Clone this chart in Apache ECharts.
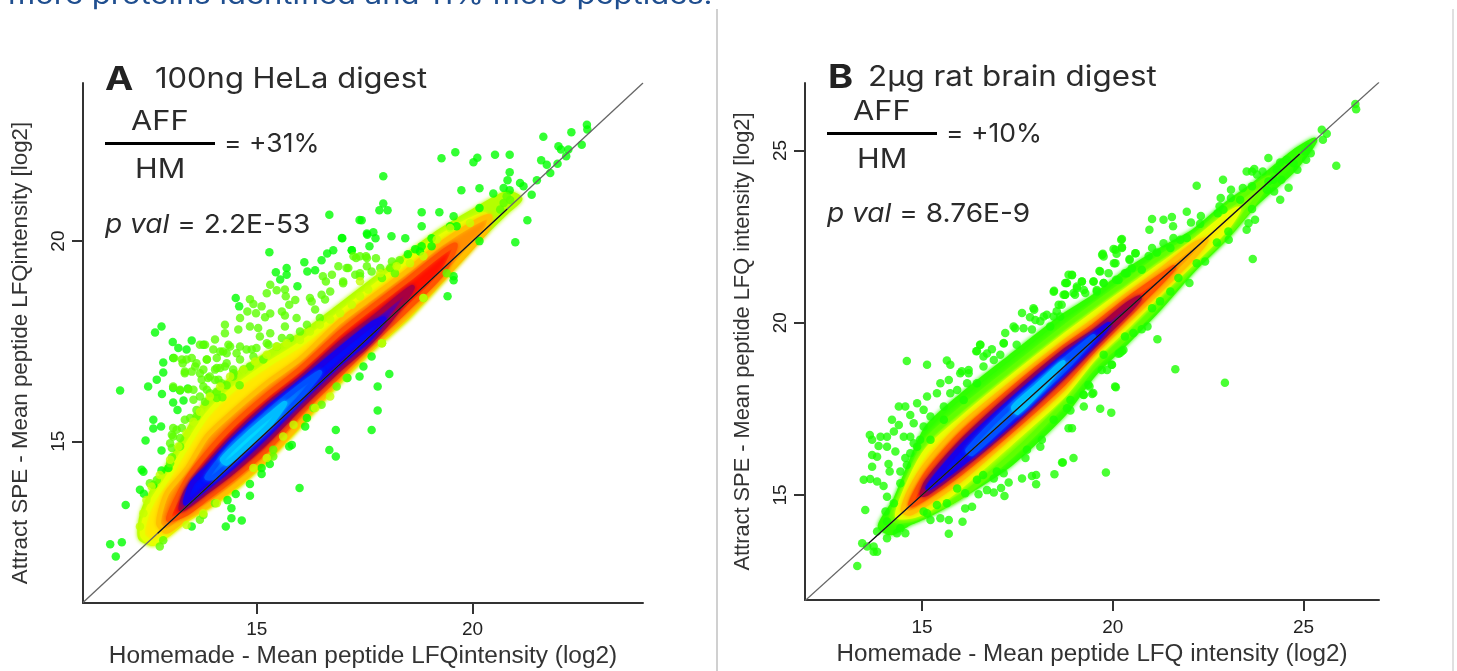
<!DOCTYPE html>
<html>
<head>
<meta charset="utf-8">
<script src="https://cdn.jsdelivr.net/npm/echarts@6/dist/echarts.min.js"></script>
<style>
  html, body { margin: 0; padding: 0; background: #fff; overflow: hidden; }
  #main { width: 1457px; height: 671px; }
</style>
</head>
<body>
<div id="main"></div>
<script>
// tick labels
const aXTicks = [15, 20];
const aYTicks = [15, 20];
const bXTicks = [15, 20, 25];
const bYTicks = [15, 20, 25];

// panel A, peptides far from the density ridge [homemade, attract]
const aGreen = [
  [22.65,22.91],[22.66,22.79],[22.29,22.72],[21.64,22.61],[21.99,22.37],[22.05,22.29],[22.53,22.41],[22.22,22.29],[22.17,22.12],
  [19.60,22.22],[19.28,22.07],[20.11,22.08],[20.02,21.97],[20.52,22.16],[20.86,22.16],[21.59,22.02],[21.72,21.91],[21.97,21.93],
  [21.80,21.70],[20.86,21.72],[20.81,21.52],[17.93,21.62],[21.49,21.52],[21.10,21.45],[21.18,21.37],[20.72,21.33],[20.86,21.27],
  [20.16,21.32],[19.74,21.27],[20.48,21.19],[21.37,21.16],[17.93,20.94],[17.84,20.77],[18.03,20.77],[18.82,20.72],[19.23,20.72],
  [19.56,20.62],[20.16,20.83],[17.43,20.52],[21.27,20.52],[18.82,20.37],[19.48,20.37],[19.63,20.37],[20.99,19.97],[17.70,20.22],
  [17.56,20.16],[17.75,20.07],[18.12,20.12],[18.44,20.07],[16.98,20.07],[19.05,20.07],[17.61,19.87],[17.20,19.77],[18.82,19.87],
  [18.67,19.80],[18.78,19.74],[19.05,19.87],[18.50,19.67],[19.56,19.12],[19.56,19.02],[19.42,18.62],[20.16,20.0],[17.80,16.37],
  [17.80,15.77],[17.66,15.28],[18.07,16.68],[17.38,16.62],[17.47,16.87],[17.66,17.12],
  [11.83,16.27],[12.48,16.37],[12.68,16.54],[12.83,16.72],[12.83,16.97],[13.06,17.08],[12.80,16.18],[13.06,16.33],[13.22,16.27],
  [13.40,16.32],[13.06,15.97],[13.30,16.02],[13.16,15.78],[12.60,15.54],[12.60,15.32],[12.78,15.37],[12.42,15.02],[12.79,14.77],
  [12.37,14.24],[12.33,14.29],[12.79,14.27],[12.95,14.33],[12.60,13.91],[12.29,13.79],[12.38,13.69],[11.96,13.41],[11.60,12.43],
  [11.87,12.48],[11.73,12.12],[13.49,12.87],[14.28,12.87],[14.41,13.08],[14.65,13.02],[14.41,13.33],[14.32,13.53],[14.51,13.68],
  [14.84,13.64],[14.84,13.93],[15.11,14.18],[15.11,14.33],[15.30,14.43],[15.81,14.91],[15.75,14.87],[16.12,15.37],[16.16,15.58],
  [16.83,15.28],[16.68,14.78],[16.83,14.62],[15.99,13.83],[17.10,16.58],[12.79,17.87],[12.64,17.72],[15.29,19.72],[16.97,20.08],
  [16.68,20.66],[17.38,20.53],[17.55,20.19],[15.44,19.22],[15.69,19.33],[15.54,19.04],[15.69,19.16],[16.10,19.47],[16.17,19.24],
  [16.35,19.27],[16.50,19.52],[16.63,19.69],[16.77,19.77],[17.20,19.77],[14.51,18.58],[14.59,18.37],[15.94,18.87],[13.05,17.48],
  [13.18,17.33],[13.49,17.52],[13.76,17.41],[13.37,17.29]
];
const aLime = [
  [17.24,19.62],[17.39,19.62],[17.53,19.62],[17.76,19.57],[18.13,19.49],[18.31,19.52],[17.08,19.33],[17.55,19.37],[17.66,19.24],
  [17.86,19.33],[18.09,19.33],[17.28,19.16],[17.90,19.08],[18.20,19.20],[17.00,18.99],[17.39,19.12],[18.86,18.58],[19.40,19.20],
  [17.90,17.45],[17.08,16.58],[20.72,20.95],[20.87,21.03],[20.64,20.79],[20.79,21.12],[12.75,12.37],[12.83,12.53],[13.68,13.04],
  [13.76,13.16],[14.03,13.45],[15.38,14.62],[15.38,14.79],[16.31,15.83],[16.50,15.91],[16.85,16.37],
  [13.03,15.16],[13.03,14.83],[13.22,15.08],[13.03,14.60],[13.26,15.33],[13.06,15.33],[13.45,15.58],[13.60,15.78],[13.53,16.04],
  [13.76,16.37],[13.87,16.58],[13.68,16.70],[13.60,16.95],[13.84,17.04],[14.07,17.08],[14.15,17.24],[14.30,17.20],[14.07,16.08],
  [13.28,16.95],[13.33,16.70],[13.68,17.41],[13.80,17.41],[14.61,17.04],[14.76,17.29],[14.45,16.79],[14.15,16.83],[14.03,16.53],
  [15.31,18.91],[15.23,18.70],[15.46,18.77],[15.65,18.79],[15.67,18.62],[14.84,18.55],[14.92,18.43],[15.11,18.37],[14.78,18.24],
  [14.98,18.20],[15.31,18.19],[15.19,18.10],[15.58,18.24],[15.65,18.14],[15.89,18.53],[15.75,18.41],[15.92,18.08],[16.23,18.58],
  [16.89,19.37],[17.12,19.33],[16.74,19.16],[16.53,19.12],[16.60,18.99],[17.00,18.95],[17.39,19.20],[17.55,19.58],[17.30,19.58],
  [16.70,18.74],[16.50,18.66],[16.58,18.54],[16.27,18.49],[16.35,18.29],[14.26,17.91],[14.61,18.08],[14.57,17.79],[14.84,17.87],
  [15.03,17.83],[15.07,17.62],[15.31,17.70],[15.58,17.58],[15.65,17.87],[15.77,17.58],[16.00,17.74],[16.16,17.91],[16.46,18.08],
  [14.03,17.54],[14.26,17.70],[14.34,17.41],[14.22,17.24],[14.53,17.20],[14.88,17.29],[15.27,17.41],[13.08,17.08],[13.26,17.04],
  [13.49,17.08],[13.84,17.04],[13.57,16.87],[13.33,16.74],[14.03,16.79],[14.26,16.87],[13.72,16.54],[13.91,16.62],[14.11,16.54],
  [13.06,16.37],[13.22,16.29],[13.41,16.30],[13.84,16.29],[14.46,16.70],[14.84,16.87],[14.30,16.40],[14.60,16.40],[14.20,16.10],
  [13.37,17.04],[13.49,16.74],[13.99,17.29],[14.38,17.37],[14.61,17.37],[14.99,17.33],[15.23,17.45],[15.46,17.37],[14.92,17.12],
  [15.15,17.04],[14.30,16.95],[14.07,16.83],[13.76,16.79],[14.45,16.62],[14.69,16.79],[14.18,16.45],[13.91,16.20],[13.68,16.12],
  [13.53,16.29],[14.07,16.24],[13.80,15.99],[13.60,15.62],[13.33,15.54],[13.14,15.29],[12.99,14.95],[13.06,15.12],[13.22,14.87],
  [12.52,13.95],[12.68,14.03],[12.99,14.45]
];
// yellow green dots fraying the edge of the ridge
const aEdge = [
  [14.69,16.78],[14.96,16.99],[15.23,17.16],[15.46,17.37],[15.69,17.45],[16.0,17.53],[16.23,17.74],[16.46,17.91],[16.7,18.04],
  [16.93,18.2],[17.2,18.41],[17.39,18.62],[17.58,18.79],[14.38,16.62],[14.15,16.37],[13.91,16.12],[13.68,15.74],[13.53,15.49],
  [13.37,15.2],[13.18,14.87],[12.99,14.54],[12.75,14.16],[12.56,13.87],[12.44,13.53],[12.37,13.2],[12.29,12.87],[17.39,19.0],
  [17.86,19.2],[18.24,19.37],[18.55,19.45],[18.86,19.62],[19.17,20.04],[19.48,20.33],[19.94,20.45],[13.37,12.91],[13.76,13.2],
  [14.07,13.45],[14.92,14.33],[15.23,14.58],[15.61,15.12],[15.85,15.41],[16.35,15.83],[16.7,16.12],[17.9,17.45],[18.86,18.58]
];

// panel A, density contours
const aBandLime = [
  [12.3,12.6],[12.35,13.2],[12.6,13.8],[12.95,14.4],[13.35,15.15],[13.8,15.95],[14.4,16.55],[15.2,17.15],[16.0,17.65],[16.77,18.25],[17.7,19.02],
  [18.48,19.65],[19.25,20.25],[20.02,20.75],[20.8,21.2],[21.1,21.05],[20.8,20.75],[20.0,19.9],[19.25,19.0],[18.48,18.1],[17.7,17.35],[16.77,16.35],
  [16.0,15.45],[15.23,14.6],[14.45,13.85],[13.84,13.4],[13.37,13.1],[12.91,12.7],[12.6,12.45]
];
const aBandYellow = [
  [12.35,12.65],[12.42,13.1],[12.6,13.55],[12.91,14.05],[13.37,14.87],[13.84,15.65],[14.45,16.3],[15.23,16.9],[16.0,17.42],[16.77,18.05],[17.7,18.85],
  [18.48,19.5],[19.25,20.1],[19.9,20.5],[20.3,20.65],[20.0,19.95],[19.25,19.0],[18.48,18.1],[17.7,17.35],[16.77,16.35],[16.0,15.42],[15.23,14.55],
  [14.45,13.8],[13.84,13.35],[13.37,13.05],[12.91,12.65],[12.6,12.45]
];
const aBandOrange = [
  [12.72,12.95],[12.91,13.7],[13.37,14.3],[13.84,15.12],[14.45,15.74],[15.23,16.45],[16.0,17.05],[16.93,18.0],[17.7,18.62],[18.48,19.25],[19.25,19.92],
  [20.02,20.45],[20.4,20.62],[20.3,20.25],[19.25,19.0],[18.48,18.14],[17.7,17.39],[16.93,16.58],[16.0,15.45],[15.23,14.58],[14.45,13.85],[13.84,13.38],
  [13.37,13.1],[12.91,12.75]
];
const aBandRed = [
  [12.95,13.05],[13.37,14.03],[13.84,14.7],[14.45,15.41],[15.23,16.15],[16.0,16.8],[16.93,17.72],[17.7,18.38],[18.48,19.02],[19.25,19.68],[19.6,19.9],
  [19.3,19.2],[18.48,18.3],[17.7,17.5],[16.93,16.68],[16.0,15.7],[15.23,14.79],[14.45,14.08],[13.84,13.58],[13.37,13.2]
];
const aBandPurple = [
  [13.25,13.3],[13.37,13.75],[13.84,14.4],[14.45,15.12],[15.23,15.9],[16.0,16.55],[16.93,17.45],[17.7,18.08],[18.6,18.85],[18.1,18.05],[17.5,17.35],
  [16.93,16.82],[16.0,15.85],[15.23,15.0],[14.45,14.25],[13.84,13.75]
];
const aBandBlue = [
  [13.35,13.45],[13.5,13.95],[13.84,14.33],[14.45,15.03],[15.23,15.8],[16.0,16.47],[16.93,17.3],[17.7,17.95],[17.95,18.05],[17.6,17.55],[16.93,16.95],
  [16.0,16.0],[15.23,15.15],[14.45,14.38],[13.84,13.85]
];
const aBandSky = [
  [13.84,14.1],[14.45,14.93],[15.23,15.7],[15.85,16.25],[16.46,16.72],[15.85,15.92],[15.23,15.33],[14.61,14.7],[14.0,14.1]
];
const aBandCyan = [
  [14.2,14.55],[14.76,15.15],[15.3,15.65],[15.65,15.95],[15.3,15.42],[14.76,14.87],[14.3,14.45]
];

// panel B, peptides around the ridge
const bGreen = [
  [26.36,26.35],[26.38,26.20],[25.48,25.60],[25.61,25.49],[25.51,25.31],[25.86,24.56],[25.13,25.10],[25.19,24.92],[25.04,24.97],[25.07,24.73],
  [24.08,24.78],[24.39,24.65],[24.56,24.73],[24.74,24.63],[24.84,24.44],[23.65,24.39],[23.78,24.30],[23.51,24.39],[23.71,24.46],[23.93,24.39],
  [24.30,24.44],[24.21,24.15],[24.08,24.10],[24.42,24.15],[22.89,24.15],[22.20,23.98],[23.41,23.91],[23.65,23.96],[23.10,23.86],[24.61,23.92],
  [24.23,23.81],[24.39,23.57],[24.04,23.86],[22.83,23.62],[23.10,23.62],[23.34,23.57],[22.80,23.38],[22.90,23.28],[23.65,23.30],[21.94,23.22],
  [22.75,23.18],[22.31,23.10],[21.03,23.01],[21.33,22.99],[21.55,23.07],[22.05,22.91],[21.58,22.80],[22.29,22.87],[23.73,22.99],[23.56,22.89],
  [23.51,22.70],[20.96,22.70],[23.03,22.65],[23.04,22.41],[22.73,22.33],[20.22,22.41],[21.59,22.46],[21.94,22.46],[21.77,22.41],[20.07,22.12],
  [20.24,22.19],[19.72,21.97],[19.76,21.92],[20.07,21.73],[20.60,22.02],[20.44,21.82],[21.33,22.31],[21.03,22.17],[21.16,22.04],[20.94,21.94],
  [21.51,22.17],[23.67,21.85],[22.42,21.78],[22.20,21.73],[19.65,21.50],[19.89,21.44],[18.93,21.38],[19.50,21.20],[20.76,21.54],[20.50,21.58],
  [20.15,21.24],[20.37,21.44],[19.76,21.15],[18.75,21.15],[19.19,21.20],[19.06,21.05],[19.24,20.95],[18.75,20.81],[18.97,20.86],[19.58,20.95],
  [22.01,21.15],[21.72,21.30],[21.51,20.91],[21.24,20.62],[21.03,20.42],[20.91,19.89],[20.76,19.81],[21.17,19.52],[21.64,18.65],[20.24,19.17],
  [20.15,19.10],[19.98,18.78],[19.85,18.63],[22.94,18.26],[20.08,18.13],[19.67,17.50],[19.96,17.39],[19.24,17.57],[19.46,17.93],[19.24,17.90],
  [19.39,18.15],[18.93,16.94],[18.97,16.07],[18.69,15.94],[19.82,15.65],[18.89,17.45],[18.80,17.52],[18.89,17.76],
  [14.60,18.89],[15.13,18.78],[15.65,18.90],[15.74,18.78],[16.44,19.18],[16.53,19.36],[16.00,18.53],[16.22,18.53],[15.70,18.34],[15.48,18.24],
  [15.92,18.05],[15.39,17.95],[15.13,17.86],[14.87,17.66],[14.39,17.57],[14.56,17.57],[15.04,17.47],[14.69,17.32],[14.21,17.18],[14.39,17.03],
  [14.08,16.69],[13.91,16.69],[13.63,16.74],[13.69,16.60],[13.86,16.42],[14.26,16.84],[14.52,16.69],[14.08,16.40],[14.30,16.26],[13.69,16.16],
  [13.82,16.11],[14.56,16.07],[14.69,16.21],[14.87,16.40],[13.69,15.82],[14.12,15.90],[14.15,15.68],[14.43,15.68],[14.60,15.87],[13.47,15.44],
  [13.64,15.46],[13.82,15.39],[13.99,15.26],[14.43,15.34],[14.08,14.95],[14.26,14.76],[13.51,14.56],[14.04,14.52],[14.08,14.23],[13.82,13.94],
  [14.08,13.74],[14.34,13.89],[14.56,13.89],[14.43,14.03],[13.43,13.60],[13.56,13.50],[13.73,13.50],[13.82,13.35],[13.30,12.94],[13.73,13.35],
  [15.13,14.47],[15.22,14.27],[15.48,14.32],[15.70,14.27],[16.06,14.22],[15.70,13.87],[15.65,14.76],[15.39,14.71],[16.13,14.61],[16.31,14.66],
  [15.04,14.52],[16.48,15.02],[16.70,15.14],[16.88,15.07],[17.16,14.97],[17.07,15.20],[17.27,15.36],[17.62,15.48],[17.88,15.55],[17.99,15.58],
  [17.99,15.31],[18.47,15.60],[18.67,15.94],[17.71,16.07],[17.75,16.31],[18.10,16.40],[18.14,16.60],[18.45,17.18],[18.84,16.94],[16.96,15.68],
  [16.88,15.48],[17.14,15.63],[16.44,15.44],[16.60,15.58],[16.13,15.05],[15.92,15.19],
  [15.57,17.57],[15.22,17.28],[15.74,17.95],[16.18,18.24],[16.70,19.11],[16.88,18.92],[17.14,19.40],[16.61,18.73],[16.44,18.24],[16.09,17.76],
  [15.57,17.18],[15.04,16.99],[14.78,17.08],[15.22,16.60],[14.95,16.60],[14.78,16.50],[14.69,16.69],
  [18.45,20.90],[18.80,21.15],[18.71,20.81],[18.84,21.39],[17.92,20.42],[17.62,20.28],[18.58,20.52],[18.19,20.18],[17.18,19.70],[17.40,19.89],
  [17.66,19.84],[18.62,20.18],[17.97,20.08],[18.45,20.18],
  [20.24,22.43],[20.24,22.17],[20.02,22.14],[20.10,22.00],[19.74,22.00],[20.59,22.02],[20.44,21.85],[20.03,21.73],[19.67,21.49],[18.93,21.39],
  [18.78,21.15],[18.46,20.93],[19.19,21.20],[19.49,21.20],[19.76,21.15],[20.09,21.25],[20.32,21.44],[19.06,21.00],[18.75,20.81],[19.01,20.81],
  [19.28,20.86],[19.58,20.91],[18.66,20.52],[17.94,20.38],[17.83,20.16],[18.27,20.23],[18.53,20.33],[18.10,20.04],[17.44,19.84],[17.88,19.80],
  [18.36,19.89],[16.52,19.36],[16.42,19.17],[16.83,19.23],[17.14,19.41],[16.61,19.02],[17.05,19.07],[17.48,19.36],[16.22,18.63],[16.04,18.59],
  [20.28,19.21],[20.19,19.12],[19.97,18.78],[19.71,18.63],[20.06,18.15],[19.49,17.96],[19.23,17.91],[19.36,18.20],[19.76,19.07],[20.54,19.70],[20.32,19.60]
];

// panel B, density contours
const bBandGreen = [
  [13.9,14.1],[14.3,14.85],[14.69,15.9],[15.13,16.95],[16.0,17.85],[17.31,19.0],[18.71,20.2],[19.5,20.75],[20.37,21.5],[21.24,22.1],[22.12,22.65],
  [22.99,23.45],[23.69,24.0],[24.74,24.95],[25.3,25.3],[24.74,24.45],[23.69,23.4],[22.99,22.5],[22.12,21.55],[21.24,20.45],[20.37,19.45],[19.5,18.5],
  [18.71,17.35],[17.31,15.9],[16.0,14.95],[15.13,14.4],[14.69,14.2],[14.2,13.9]
];
const bBandLime = [
  [14.2,14.3],[14.69,15.63],[15.13,16.6],[16.0,17.47],[17.31,18.63],[18.71,19.85],[19.5,20.5],[20.37,21.2],[21.24,21.9],[22.12,22.5],[22.99,23.33],
  [23.69,23.91],[24.1,24.2],[23.69,23.47],[22.99,22.55],[22.12,21.63],[21.24,20.57],[20.37,19.6],[19.5,18.73],[18.71,17.66],[17.31,16.11],[16.0,14.95],
  [15.13,14.47],[14.69,14.28]
];
const bBandYellow = [
  [14.35,14.4],[14.69,15.44],[15.13,16.31],[16.0,17.18],[17.31,18.38],[18.71,19.6],[19.5,20.25],[20.37,20.96],[21.24,21.65],[22.12,22.35],[22.99,23.13],
  [23.3,23.3],[22.99,22.75],[22.12,21.78],[21.24,20.86],[20.37,19.89],[19.5,18.97],[18.71,17.9],[17.31,16.5],[16.0,15.24],[15.13,14.56],[14.69,14.38]
];
const bBandOrange = [
  [14.5,14.55],[14.69,15.15],[15.13,15.92],[16.0,16.99],[17.31,18.2],[18.71,19.42],[19.5,20.05],[20.37,20.8],[21.24,21.5],[22.12,22.26],[22.45,22.4],
  [22.12,21.92],[21.24,20.95],[20.37,20.04],[19.5,19.12],[18.71,18.1],[17.31,16.7],[16.0,15.44],[15.13,14.76],[14.69,14.47]
];
const bBandRed = [
  [14.7,14.72],[15.13,15.63],[16.0,16.74],[17.31,18.03],[18.71,19.28],[19.5,19.9],[20.37,20.66],[21.24,21.34],[21.6,21.6],[21.24,21.15],[20.37,20.18],
  [19.5,19.21],[18.71,18.24],[17.31,16.84],[16.0,15.63],[15.13,14.95]
];
const bBandPurple = [
  [15.0,15.02],[15.13,15.39],[16.0,16.5],[17.31,17.86],[18.71,19.16],[19.5,19.74],[20.37,20.52],[20.7,20.72],[20.37,20.28],[19.5,19.33],[18.71,18.44],
  [17.31,16.99],[16.0,15.77],[15.13,15.05]
];
const bBandBlue = [
  [15.15,15.2],[16.0,16.36],[17.31,17.71],[18.71,19.02],[19.5,19.65],[19.9,19.95],[19.5,19.41],[18.71,18.53],[17.31,17.08],[16.0,15.87]
];
const bBandSky = [
  [16.2,16.3],[17.31,17.57],[18.71,18.9],[19.5,19.6],[18.71,18.62],[17.31,17.2],[16.3,16.2]
];
const bBandCyan = [
  [17.4,17.55],[18.0,18.15],[18.7,18.85],[18.1,18.05],[17.5,17.4]
];

// identity lines, grey over the whole axis and black through the cloud
const aIdentity = [[10.97,10.97],[23.95,23.95]];
const aIdentityDark = [[12.7,12.7],[20.8,20.8]];
const bIdentity = [[11.93,11.93],[26.98,26.98]];
const bIdentityDark = [[13.6,13.6],[24.9,24.9]];

const textFont = 'Inter';
const axisFont = 'Liberation Sans';

function band (points, color, edge, gridIndex) {
  return {
    type: 'custom',
    coordinateSystem: 'cartesian2d',
    xAxisIndex: gridIndex,
    yAxisIndex: gridIndex,
    silent: true,
    data: points,
    renderItem (params, api) {
      if (params.context.rendered) return;
      params.context.rendered = true;
      return {
        type: 'polygon',
        shape: {points: points.map(p => api.coord(p)), smooth: 0.25},
        style: {fill: color, stroke: edge, lineWidth: 5, shadowColor: edge, shadowBlur: 4}
      };
    }
  };
}

function dots (points, color, gridIndex) {
  return {
    type: 'scatter',
    xAxisIndex: gridIndex,
    yAxisIndex: gridIndex,
    symbolSize: 8.5,
    silent: true,
    itemStyle: {color: color},
    data: points
  };
}

function line (points, color, width, gridIndex) {
  return {
    type: 'line',
    xAxisIndex: gridIndex,
    yAxisIndex: gridIndex,
    symbol: 'none',
    silent: true,
    lineStyle: {color: color, width: width},
    data: points
  };
}

function axis (gridIndex, min, max, ticks, name, nameGap, labelOpt, nameOpt) {
  return {
    type: 'value',
    gridIndex: gridIndex,
    min: min,
    max: max,
    name: name,
    nameLocation: 'middle',
    nameGap: nameGap,
    nameTextStyle: Object.assign({fontFamily: axisFont, color: '#333'}, nameOpt),
    splitLine: {show: false},
    axisLine: {onZero: false, lineStyle: {color: '#333', width: 2}},
    axisTick: {customValues: ticks, length: 11, lineStyle: {color: '#333', width: 2}},
    axisLabel: Object.assign({customValues: ticks, fontFamily: axisFont, fontSize: 19, color: '#222'}, labelOpt)
  };
}

function text (left, top, str, size, scaleX, extra) {
  return {
    type: 'text',
    left: left,
    top: top,
    scaleX: scaleX,
    style: Object.assign({text: str, fontFamily: textFont, fontSize: size, fill: '#2b2b2b'}, extra)
  };
}

function rule (x, y, width, height, color) {
  return {type: 'rect', shape: {x: x, y: y, width: width, height: height}, style: {fill: color}};
}

const rich = {i: {fontFamily: textFont, fontSize: 26, fontStyle: 'italic', fill: '#2b2b2b'}};
const yLabel = {margin: 15, rotate: 90};

function panel (i, s) {
  return [
    band(s.lime, s.limeColor, s.limeEdge, i),
    band(s.yellow, '#ffe800', '#e8ff00', i),
    band(s.orange, '#ff9000', '#ffc000', i),
    band(s.red, '#ff1000', '#ff5400', i),
    band(s.purple, '#4000c8', '#a80040', i),
    band(s.blue, '#0010ff', '#1a00e8', i),
    band(s.sky, '#0088ff', '#0050ff', i),
    band(s.cyan, '#00f0ff', '#00bcff', i)
  ];
}

const option = {
  animation: false,
  backgroundColor: '#fff',
  grid: [
    {left: 83, top: 83, width: 560, height: 520, outerBoundsMode: 'none'},
    {left: 805, top: 83, width: 574, height: 517, outerBoundsMode: 'none'}
  ],
  xAxis: [
    axis(0, 10.97, 23.95, aXTicks, 'Homemade - Mean peptide LFQintensity (log2)', 41, {margin: 17}, {fontSize: 24.4}),
    axis(1, 11.93, 26.98, bXTicks, 'Homemade - Mean peptide LFQ intensity (log2)', 41, {margin: 18}, {fontSize: 24.2})
  ],
  yAxis: [
    axis(0, 10.96, 23.95, aYTicks, 'Attract SPE - Mean peptide LFQintensity [log2]', 51, yLabel, {fontSize: 22.3, padding: [0, 20, 0, 0]}),
    axis(1, 11.95, 26.96, bYTicks, 'Attract SPE - Mean peptide LFQ intensity [log2]', 51, yLabel, {fontSize: 21.8})
  ],
  series: [
    dots(aGreen, '#00ff00', 0),
    dots(aLime, '#5cff00', 0),
    ...panel(0, {
      lime: aBandLime, limeColor: '#b4ff00', limeEdge: '#b4ff00', yellow: aBandYellow, orange: aBandOrange,
      red: aBandRed, purple: aBandPurple, blue: aBandBlue, sky: aBandSky, cyan: aBandCyan
    }),
    dots(aEdge, '#c4ff00', 0),
    line(aIdentity, '#666', 1.3, 0),
    line(aIdentityDark, '#111', 1.2, 0),
    dots(bGreen, '#1cff00', 1),
    band(bBandGreen, '#3cff00', '#30ff00', 1),
    ...panel(1, {
      lime: bBandLime, limeColor: '#88ff00', limeEdge: '#60ff00', yellow: bBandYellow, orange: bBandOrange,
      red: bBandRed, purple: bBandPurple, blue: bBandBlue, sky: bBandSky, cyan: bBandCyan
    }),
    line(bIdentity, '#666', 1.3, 1),
    line(bIdentityDark, '#111', 1.2, 1)
  ],
  graphic: [
    text(8, -18, 'more proteins identified and 11% more peptides.', 27, 1.149, {fill: '#1f4e8f'}),
    rule(716, 9, 2, 662, '#d0d0d0'),
    rule(1452, 9, 2, 662, '#e0e0e0'),

    text(105, 64, 'A', 33, 1.15, {fontWeight: 'bold', fill: '#222'}),
    text(155, 66, '100ng HeLa digest', 28, 1.105),
    text(131, 108, 'AFF', 27, 1.14),
    rule(105, 142, 110, 3, '#000'),
    text(224, 131, '= +31%', 26, 1.02),
    text(135, 156, 'HM', 27, 1.13),
    text(105, 212, '{i|p val} = 2.2E-53', 26, 1.08, {rich: rich}),

    text(828, 62, 'B', 33, 1.15, {fontWeight: 'bold', fill: '#222'}),
    text(868, 64, '2µg rat brain digest', 28, 1.12),
    text(853, 98, 'AFF', 27, 1.14),
    rule(827, 132, 110, 3, '#000'),
    text(946, 121, '= +10%', 26, 1.02),
    text(857, 146, 'HM', 27, 1.13),
    text(827, 201, '{i|p val} = 8.76E-9', 26, 1.08, {rich: rich})
  ]
};

const chart = echarts.init(document.getElementById('main'));
chart.setOption(option);
</script>
</body>
</html>
